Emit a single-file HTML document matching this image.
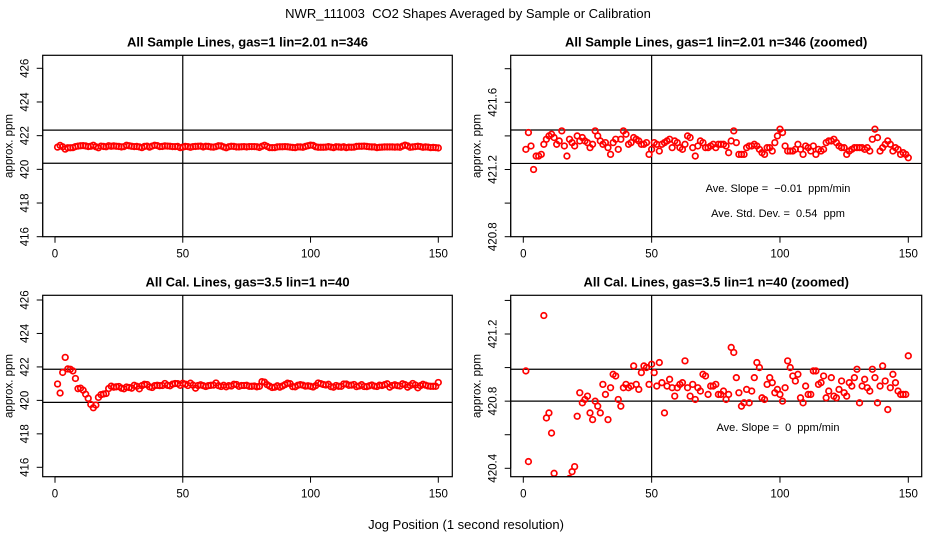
<!DOCTYPE html>
<html><head><meta charset="utf-8">
<style>
html,body{margin:0;padding:0;background:#fff;width:936px;height:540px;overflow:hidden;position:relative;}
svg{display:block;position:absolute;left:0;top:0;font-family:"Liberation Sans",Arial,sans-serif;}
text{white-space:pre;}
</style></head>
<body>
<svg id="chart" width="936" height="540" viewBox="0 0 936 540" xmlns="http://www.w3.org/2000/svg" xml:space="preserve">
<rect width="936" height="540" fill="#fff"/>
<text x="468" y="18" text-anchor="middle" font-size="13">NWR_111003  CO2 Shapes Averaged by Sample or Calibration</text>
<text x="466" y="529" text-anchor="middle" font-size="13">Jog Position (1 second resolution)</text>
</svg>
<script>
const sampleValues = [421.32,421.42,421.34,421.20,421.28,421.28,421.29,421.35,421.38,421.40,
421.41,421.39,421.35,421.37,421.43,421.34,421.28,421.38,421.36,421.34,
421.40,421.37,421.39,421.37,421.36,421.33,421.35,421.43,421.40,421.37,
421.35,421.36,421.33,421.29,421.36,421.38,421.32,421.38,421.43,421.41,
421.35,421.36,421.39,421.38,421.37,421.35,421.35,421.36,421.29,421.32,
421.36,421.35,421.31,421.35,421.36,421.37,421.38,421.33,421.37,421.36,
421.33,421.32,421.35,421.40,421.39,421.33,421.28,421.34,421.37,421.36,
421.33,421.33,421.34,421.35,421.33,421.35,421.35,421.35,421.34,421.30,
421.37,421.43,421.36,421.29,421.29,421.29,421.33,421.34,421.34,421.35,
421.34,421.32,421.30,421.29,421.33,421.33,421.31,421.36,421.40,421.44,
421.42,421.34,421.31,421.31,421.31,421.32,421.35,421.32,421.29,421.34,
421.33,421.31,421.34,421.29,421.32,421.31,421.32,421.36,421.37,421.37,
421.38,421.36,421.34,421.33,421.33,421.29,421.31,421.32,421.33,421.33,
421.33,421.33,421.32,421.33,421.31,421.38,421.44,421.39,421.31,421.33,
421.35,421.37,421.35,421.31,421.33,421.32,421.29,421.30,421.29,421.27];
const calValues = [420.98,420.44,421.67,422.57,421.88,421.86,421.76,421.31,420.70,420.73,
420.61,420.37,420.12,419.76,419.56,419.72,420.18,420.34,420.38,420.41,
420.71,420.85,420.79,420.81,420.83,420.73,420.69,420.80,420.77,420.73,
420.90,420.84,420.69,420.88,420.96,420.95,420.81,420.77,420.88,420.90,
420.88,420.89,421.01,420.90,420.87,420.97,421.01,421.00,420.90,421.02,
420.97,420.89,421.03,420.91,420.73,420.89,420.93,420.88,420.83,420.88,
420.90,420.91,421.04,420.88,420.83,420.90,420.81,420.88,420.86,420.96,
420.95,420.84,420.89,420.89,420.90,420.84,420.84,420.86,420.81,420.84,
421.12,421.09,420.94,420.85,420.77,420.79,420.87,420.79,420.86,420.94,
421.03,421.00,420.82,420.81,420.90,420.94,420.91,420.85,420.87,420.84,
420.80,420.88,421.04,421.00,420.95,420.92,420.96,420.82,420.79,420.89,
420.84,420.84,420.98,420.98,420.90,420.91,420.95,420.82,420.86,420.94,
420.83,420.82,420.87,420.92,420.85,420.83,420.91,420.89,420.94,420.99,
420.79,420.89,420.93,420.88,420.86,420.99,420.94,420.79,420.89,421.01,
420.92,420.75,420.88,420.96,420.91,420.86,420.84,420.84,420.84,421.07];
const xTicks = [0,50,100,150];
const coarseYTicks = [416,418,420,422,424,426];
const sampleZoomTicks = [420.8,421.0,421.2,421.4,421.6,421.8];
const sampleZoomLabels = ["420.8","","421.2","","421.6",""];
const calZoomTicks = [420.4,420.6,420.8,421.0,421.2,421.4];
const calZoomLabels = ["420.4","","420.8","","421.2",""];
const sampleBands = [420.36,422.33];
const sampleZoomBands = [421.236,421.435];
const calBands = [419.88,421.86];
const calZoomBands = [420.80,420.99];

const NS = "http://www.w3.org/2000/svg";
const svg = document.getElementById('chart');
function mk(tag, attrs, parent){const e=document.createElementNS(NS,tag);for(const k in attrs)e.setAttribute(k,attrs[k]);(parent||svg).appendChild(e);return e;}

function panel(cfg){
  const g = mk('g',{});
  
  
  const L=cfg.left,R=cfg.right,T=cfg.top,B=cfg.bottom;
  const xs = v => cfg.x0 + (v-0)*(cfg.x150-cfg.x0)/150;
  const ys = v => cfg.yA + (v-cfg.vA)*(cfg.yB-cfg.yA)/(cfg.vB-cfg.vA);
  const t = mk('text',{x:(L+R)/2,y:T-9,'text-anchor':'middle','font-size':13,'font-weight':'bold'},g);
  t.textContent = cfg.title;
  
  
  const clipId = cfg.name+'-clip';
  const cp = mk('clipPath',{id:clipId},g);
  mk('rect',{x:L,y:T,width:R-L,height:B-T},cp);
  const bx = mk('line',{x1:xs(50),x2:xs(50),y1:T,y2:B,stroke:'#000','stroke-width':1.2},g);
  
  
  cfg.bands.forEach(b=>{
    const l = mk('line',{x1:L,x2:R,y1:ys(b),y2:ys(b),stroke:'#000','stroke-width':1.2},g);
    
    
  });
  const pts = mk('g',{'clip-path':'url(#'+clipId+')'},g);
  
  
  cfg.values.forEach((v,i)=>{
    const c = mk('circle',{cx:xs(i+1),cy:ys(v),r:2.8,fill:'none',stroke:'#ff0000','stroke-width':1.7},pts);
    
    
  });
  const box = mk('rect',{x:L,y:T,width:R-L,height:B-T,fill:'none',stroke:'#000','stroke-width':1.2},g);
  
  
  mk('line',{x1:xs(0),x2:xs(150),y1:B,y2:B,stroke:'#000'},g);
  xTicks.forEach(v=>{
    mk('line',{x1:xs(v),x2:xs(v),y1:B,y2:B+6,stroke:'#000'},g);
    const tx = mk('text',{x:xs(v),y:B+21,'text-anchor':'middle','font-size':11.5},g);
    tx.textContent = v;
    
    
  });
  const yt = cfg.yTicks;
  mk('line',{x1:L,x2:L,y1:ys(yt[0]),y2:ys(yt[yt.length-1]),stroke:'#000'},g);
  yt.forEach((v,i)=>{
    mk('line',{x1:L-6,x2:L,y1:ys(v),y2:ys(v),stroke:'#000'},g);
    const lab = cfg.yLabels[i];
    if(lab!==''){
      const tx = mk('text',{x:0,y:0,'text-anchor':'middle','font-size':11.5,transform:'translate('+(L-14)+','+ys(v)+') rotate(-90)'},g);
      tx.textContent = lab;
      
      
    }
  });
  const yl = mk('text',{x:0,y:0,'text-anchor':'middle','font-size':11.5,transform:'translate('+(L-30)+','+((T+B)/2)+') rotate(-90)'},g);
  yl.textContent = 'approx. ppm';
  
  
  (cfg.notes||[]).forEach(n=>{
    const tx = mk('text',{x:n.x,y:n.y,'text-anchor':'middle','font-size':11},g);
    tx.textContent = n.text;
    
    
  });
}
const coarseLabels = coarseYTicks.map(String);
panel({name:'sample-panel',title:'All Sample Lines, gas=1 lin=2.01 n=346',left:42.7,right:452.3,top:55.3,bottom:236.7,
  x0:55,x150:438.3,vA:426,yA:68.3,vB:416,yB:236.7,yTicks:coarseYTicks,yLabels:coarseLabels,bands:sampleBands,values:sampleValues});
panel({name:'sample-zoom-panel',title:'All Sample Lines, gas=1 lin=2.01 n=346 (zoomed)',left:510.7,right:921.7,top:55.3,bottom:236.7,
  x0:523.3,x150:908.3,vA:421.6,yA:102.3,vB:420.8,yB:236.7,yTicks:sampleZoomTicks,yLabels:sampleZoomLabels,bands:sampleZoomBands,values:sampleValues,
  notes:[{x:778,y:192,text:'Ave. Slope =  \u22120.01  ppm/min'},{x:778,y:217,text:'Ave. Std. Dev. =  0.54  ppm'}]});
panel({name:'cal-panel',title:'All Cal. Lines, gas=3.5 lin=1 n=40',left:42.7,right:452.3,top:295.3,bottom:476.7,
  x0:55,x150:438.3,vA:426,yA:300,vB:416,yB:467.3,yTicks:coarseYTicks,yLabels:coarseLabels,bands:calBands,values:calValues});
panel({name:'cal-zoom-panel',title:'All Cal. Lines, gas=3.5 lin=1 n=40 (zoomed)',left:510.7,right:921.7,top:295.3,bottom:476.7,
  x0:523.3,x150:908.3,vA:421.2,yA:334,vB:420.4,yB:468.3,yTicks:calZoomTicks,yLabels:calZoomLabels,bands:calZoomBands,values:calValues,
  notes:[{x:778,y:431,text:'Ave. Slope =  0  ppm/min'}]});
</script>
</body></html>
